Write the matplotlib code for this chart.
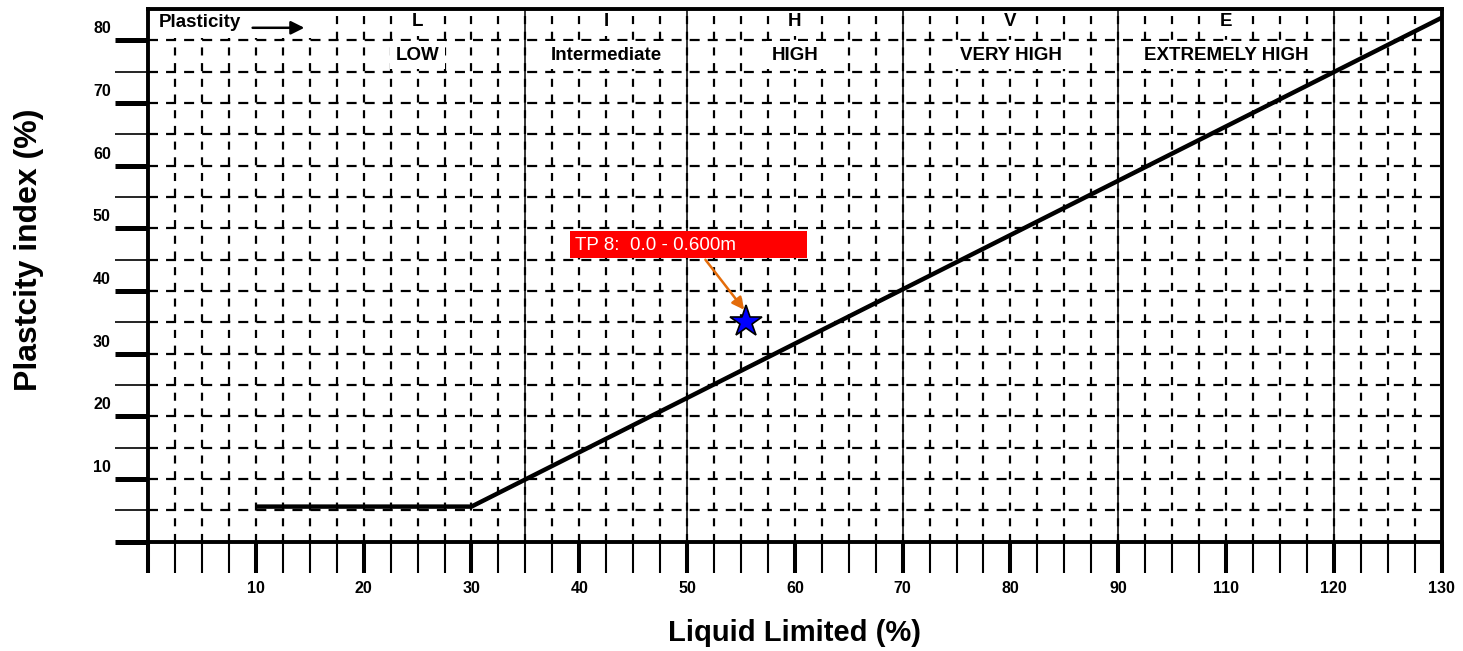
import matplotlib
matplotlib.use("Agg")
import matplotlib.pyplot as plt
from matplotlib.ticker import FixedLocator, MultipleLocator
from matplotlib.transforms import ScaledTranslation
from matplotlib.patches import Rectangle

plt.rcParams['font.family'] = ['Liberation Sans', 'DejaVu Sans']
plt.rcParams['lines.scale_dashes'] = False

# ---------------- data ----------------
x_tick_pos = [0, 10, 20, 30, 40, 50, 60, 70, 80, 90, 100, 110, 120]
x_tick_labels = ["", "10", "20", "30", "40", "50", "60", "70", "80", "90", "110", "120", "130"]
y_tick_pos = [0, 10, 20, 30, 40, 50, 60, 70, 80]
y_tick_labels = ["", "10", "20", "30", "40", "50", "60", "70", "80"]
y_minor_pos = [5, 15, 25, 35, 45, 55, 65, 75]

zone_bounds = [35, 50, 70, 90, 110]
zone_centers = [25, 42.5, 60, 80, 100]
zone_codes = ["L", "I", "H", "V", "E"]
zone_names = ["LOW", "Intermediate", "HIGH", "VERY HIGH", "EXTREMELY HIGH"]

aline_ll = [10, 30, 120]
aline_pi = [5.6, 5.6, 83.6]

sample_ll = [55.5]
sample_pi = [35.0]
sample_label = "TP 8:  0.0 - 0.600m"

# ---------------- figure ----------------
fig = plt.figure(figsize=(14.63, 6.51), dpi=100)
ax = fig.add_axes([0.1012, 0.1679, 0.8842, 0.8183])
ax.set_xlim(0, 120)
ax.set_ylim(0, 85)

ax.set_xticks(x_tick_pos, x_tick_labels)
ax.xaxis.set_minor_locator(MultipleLocator(2.5))
ax.set_yticks(y_tick_pos, y_tick_labels)
ax.yaxis.set_minor_locator(FixedLocator(y_minor_pos))

ax.tick_params(axis='y', which='major', direction='out', length=23.8, width=3.6,
               pad=3, labelsize=11.5)
ax.tick_params(axis='y', which='minor', direction='out', length=23.8, width=1.2)
ax.tick_params(axis='x', which='major', direction='out', length=22.5, width=2.9,
               pad=6, labelsize=11.5)
ax.tick_params(axis='x', which='minor', direction='out', length=22.5, width=1.5)

for lab in ax.get_xticklabels() + ax.get_yticklabels():
    lab.set_fontweight('bold')
offset = ScaledTranslation(0, 0.13, fig.dpi_scale_trans)
for lab in ax.get_yticklabels():
    lab.set_transform(lab.get_transform() + offset)

for sp in ax.spines.values():
    sp.set_linewidth(2.8)
    sp.set_zorder(10)

# dashed grid
ax.grid(which='both', axis='x', color='black', lw=1.6, linestyle=(0, (5.8, 5.5)))
ax.grid(which='both', axis='y', color='black', lw=1.6, linestyle=(0, (7.2, 5.8)))

# zone boundaries
for b in zone_bounds:
    ax.axvline(b, color='black', lw=1.1, zorder=2)

# zone labels
for c, code, name in zip(zone_centers, zone_codes, zone_names):
    ax.text(c, 83.0, code, ha='center', va='center', fontsize=13.5, fontweight='bold',
            bbox=dict(facecolor='white', edgecolor='none', pad=4), zorder=3)
    ax.text(c, 77.6, name, ha='center', va='center', fontsize=13.5, fontweight='bold',
            bbox=dict(facecolor='white', edgecolor='none', pad=4), zorder=3)

# "Plasticity ->" header
ax.add_patch(Rectangle((0.6, 80.3), 14.8, 4.4, facecolor='white', edgecolor='none', zorder=2))
ax.text(1.0, 82.9, "Plasticity", ha='left', va='center', fontsize=13.5, fontweight='bold', zorder=3)
ax.annotate("", xy=(14.5, 82.0), xytext=(9.7, 82.0),
            arrowprops=dict(arrowstyle='-|>', color='black', lw=1.8, mutation_scale=20,
                            shrinkA=0, shrinkB=0), zorder=3)

# A-line
ax.plot(aline_ll, aline_pi, color='black', lw=3.2, solid_capstyle='butt', zorder=4)

# sample point
ax.plot(sample_ll, sample_pi, ls='none', marker='*', ms=24, mfc='#0000FF', mec='black',
        mew=1.2, zorder=6)

# annotation box and arrow
bx0 = sample_ll[0] - 16.4
ax.add_patch(Rectangle((bx0, 45.3), 22.0, 4.3, facecolor='#FF0000', edgecolor='none', zorder=5))
ax.text(bx0 + 0.5, 47.3, sample_label, color='white', fontsize=13.5, ha='left', va='center',
        zorder=6)
ax.annotate("", xy=(sample_ll[0] - 0.2, sample_pi[0] + 2.0), xytext=(sample_ll[0] - 3.8, 45.0),
            arrowprops=dict(arrowstyle='-|>', color='#E46C0A', lw=1.8, mutation_scale=18,
                            shrinkA=0, shrinkB=0), zorder=6)

# axis labels
ax.set_xlabel("Liquid Limited (%)", fontsize=21, fontweight='bold')
ax.xaxis.set_label_coords(0.5, -0.171)
ax.xaxis.label.set_va('center')
ax.set_ylabel("Plastcity index (%)", fontsize=23, fontweight='bold')
ax.yaxis.set_label_coords(-0.092, 0.548)
ax.yaxis.label.set_va('center')

fig.savefig("out.png", dpi=100)
